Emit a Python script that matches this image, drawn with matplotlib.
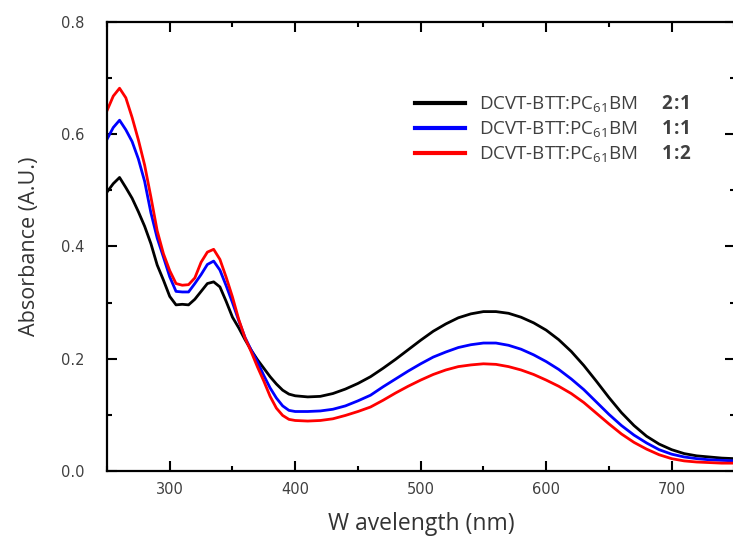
import matplotlib
matplotlib.use("Agg")
import matplotlib.pyplot as plt
from matplotlib.ticker import MultipleLocator

# Absorption spectra of DCVT-BTT:PC61BM blend films at three ratios
wavelength = [250, 255, 260, 265, 270, 275, 280, 285, 290, 295, 300, 305, 310, 315,
              320, 325, 330, 335, 340, 345, 350, 355, 360, 365, 370, 375, 380, 385,
              390, 395, 400, 410, 420, 430, 440, 450, 460, 470, 480, 490, 500, 510,
              520, 530, 540, 550, 560, 570, 580, 590, 600, 610, 620, 630, 640, 650,
              660, 670, 680, 690, 700, 710, 720, 730, 740, 750]

abs_2_1 = [0.497, 0.512, 0.523, 0.505, 0.486, 0.462, 0.436, 0.405, 0.367, 0.340,
           0.311, 0.296, 0.297, 0.296, 0.306, 0.320, 0.334, 0.337, 0.328, 0.302,
           0.274, 0.255, 0.234, 0.215, 0.198, 0.183, 0.168, 0.155, 0.144, 0.137,
           0.134, 0.132, 0.133, 0.138, 0.146, 0.156, 0.168, 0.183, 0.199, 0.216,
           0.233, 0.249, 0.262, 0.273, 0.280, 0.284, 0.284, 0.281, 0.274, 0.264,
           0.251, 0.234, 0.213, 0.188, 0.160, 0.131, 0.104, 0.081, 0.062, 0.048,
           0.038, 0.031, 0.027, 0.025, 0.023, 0.022]

abs_1_1 = [0.591, 0.612, 0.625, 0.608, 0.587, 0.556, 0.516, 0.460, 0.415, 0.381,
           0.346, 0.320, 0.319, 0.319, 0.334, 0.350, 0.368, 0.374, 0.358, 0.330,
           0.300, 0.268, 0.238, 0.215, 0.194, 0.170, 0.148, 0.130, 0.116, 0.108,
           0.106, 0.106, 0.107, 0.110, 0.116, 0.125, 0.135, 0.150, 0.164, 0.178,
           0.191, 0.203, 0.212, 0.220, 0.225, 0.228, 0.228, 0.224, 0.217, 0.207,
           0.195, 0.181, 0.164, 0.145, 0.123, 0.101, 0.081, 0.064, 0.050, 0.038,
           0.030, 0.025, 0.022, 0.020, 0.019, 0.018]

abs_1_2 = [0.642, 0.668, 0.682, 0.665, 0.630, 0.590, 0.545, 0.488, 0.428, 0.387,
           0.357, 0.334, 0.331, 0.332, 0.344, 0.372, 0.390, 0.395, 0.377, 0.345,
           0.310, 0.270, 0.237, 0.212, 0.185, 0.160, 0.133, 0.112, 0.099, 0.092,
           0.090, 0.089, 0.090, 0.093, 0.099, 0.106, 0.114, 0.126, 0.139, 0.151,
           0.162, 0.172, 0.180, 0.186, 0.189, 0.191, 0.190, 0.186, 0.180, 0.172,
           0.162, 0.151, 0.138, 0.122, 0.103, 0.084, 0.066, 0.051, 0.039, 0.029,
           0.022, 0.018, 0.016, 0.015, 0.014, 0.014]

ratios = ["2:1", "1:1", "1:2"]
colors = ["#000000", "#0000ff", "#ff0000"]

plt.rcParams["mathtext.fontset"] = "custom"
plt.rcParams["mathtext.rm"] = "Open Sans"
plt.rcParams["mathtext.bf"] = "Open Sans:bold"

W, H = 733, 540
fig = plt.figure(figsize=(W / 100, H / 100), dpi=100)
ax = fig.add_axes([107 / W, 69 / H, (735 - 107) / W, (471 - 22) / H])

for series, ratio, color in zip([abs_2_1, abs_1_1, abs_1_2], ratios, colors):
    a, b = ratio.split(":")
    label = (r"DCVT-BTT:PC$_{61}$BM     $\mathbf{" + a + r"\!:\!" + b + "}$")
    ax.plot(wavelength, series, color=color, lw=2.0, label=label)

ax.set_xlim(250, 750.5)
ax.set_ylim(0.0, 0.8)
ax.xaxis.set_major_locator(MultipleLocator(100))
ax.xaxis.set_minor_locator(MultipleLocator(50))
ax.yaxis.set_major_locator(MultipleLocator(0.2))
ax.yaxis.set_minor_locator(MultipleLocator(0.1))

for side in ax.spines.values():
    side.set_linewidth(1.6)

ax.tick_params(which="both", direction="in", top=True, right=True, width=1.5,
               colors="#000000", labelcolor="#404040")
ax.tick_params(which="major", length=7)
ax.tick_params(which="minor", length=3.5)
ax.tick_params(axis="y", pad=16, labelsize=10.5)
ax.tick_params(axis="x", pad=8, labelsize=10.5)
for lab in ax.get_xticklabels() + ax.get_yticklabels():
    lab.set_family("DejaVu Sans")

ax.set_xlabel("W avelength (nm)", fontsize=16.5, color="#333333",
              family="Open Sans", labelpad=11)
ax.set_ylabel("Absorbance (A.U.)", fontsize=15.5, color="#333333",
              family="Open Sans", labelpad=15)

leg = ax.legend(loc="upper left", bbox_to_anchor=(407 / W, 1 - 86 / H),
                bbox_transform=fig.transFigure, frameon=False,
                prop={"family": "Open Sans", "size": 13.5},
                handlelength=2.7, handletextpad=0.75, labelspacing=0.2,
                borderaxespad=0)
for line in leg.get_lines():
    line.set_linewidth(3.0)
for txt in leg.get_texts():
    txt.set_color("#404040")

fig.savefig("out.png", dpi=100)
